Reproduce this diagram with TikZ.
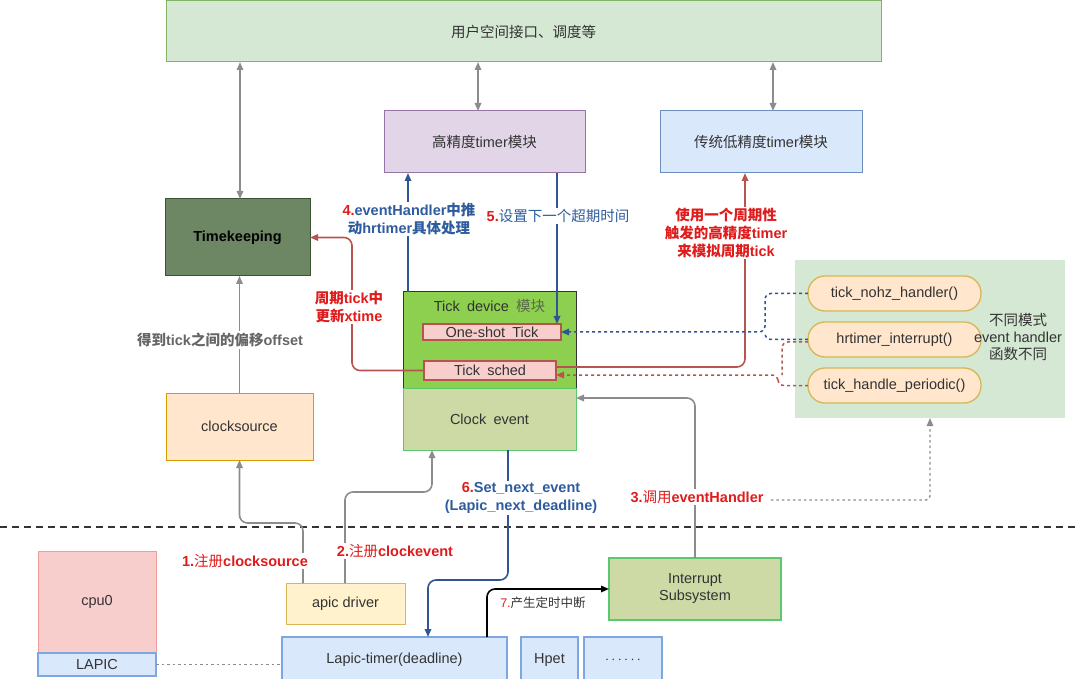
\documentclass[tikz,border=0pt]{standalone}
\usepackage{fontspec}
\setmainfont{Liberation Sans}
\newfontfamily\cjk{Noto Sans CJK SC}
\usetikzlibrary{arrows.meta,calc}
\newcommand\zht[1]{{\cjk #1}}
\newcommand\zhm[1]{{\cjk\mdseries #1}}
\definecolor{txt}{HTML}{333333}
\definecolor{topfill}{HTML}{D5E8D4}\definecolor{topdraw}{HTML}{82B366}
\definecolor{hpfill}{HTML}{E1D5E7}\definecolor{hpdraw}{HTML}{9673A6}
\definecolor{lpfill}{HTML}{DAE8FC}\definecolor{lpdraw}{HTML}{6C8EBF}
\definecolor{tkfill}{HTML}{6D8764}\definecolor{tkdraw}{HTML}{3A5431}
\definecolor{csfill}{HTML}{FFE6CC}\definecolor{csdraw}{HTML}{D79B00}
\definecolor{tdfill}{HTML}{8DCF4F}\definecolor{tddraw}{HTML}{333333}
\definecolor{pkfill}{HTML}{F8CECC}\definecolor{pkdraw}{HTML}{B85450}
\definecolor{cefill}{HTML}{CDDAA6}\definecolor{cedraw}{HTML}{5CC86E}
\definecolor{hdfill}{HTML}{FFE6CC}\definecolor{hddraw}{HTML}{D6B656}
\definecolor{adfill}{HTML}{FFF2CC}
\definecolor{cpufill}{HTML}{F8CECC}\definecolor{cpudraw}{HTML}{F19C99}
\definecolor{bxfill}{HTML}{DAE8FC}\definecolor{bxdraw}{HTML}{7EA6E0}
\definecolor{gline}{HTML}{8C8C8C}
\definecolor{bline}{HTML}{2F5597}
\definecolor{rline}{HTML}{B85450}
\definecolor{lred}{HTML}{E01B1B}
\definecolor{lblue}{HTML}{2E5C9E}
\definecolor{lgray}{HTML}{666666}
\definecolor{mgray}{HTML}{5A6B4A}
\begin{document}
\begin{tikzpicture}[x=1pt,y=-1pt,
  every node/.style={font=\fontsize{14.5}{17}\selectfont, text=txt, inner sep=0pt, outer sep=0pt},
  box/.style={draw, line width=1pt, align=center},
  pill/.style={box, fill=hdfill, draw=hddraw, line width=1.3pt, rounded corners=17pt, minimum width=173pt, minimum height=35pt},
  bluebox/.style={box, fill=bxfill, draw=bxdraw, line width=1.2pt},
  tipa/.style={-{Triangle[length=8pt,width=6.5pt]}},
  tipb/.style={{Triangle[length=8pt,width=6.5pt]}-{Triangle[length=8pt,width=6.5pt]}},
  gconn/.style={draw=gline, line width=1.6pt, rounded corners=8pt},
  bconn/.style={draw=bline, line width=1.6pt, rounded corners=8pt},
  rconn/.style={draw=rline, line width=1.6pt, rounded corners=8pt},
  lbl/.style={fill=white, align=center, font=\fontsize{14.5}{18}\selectfont\bfseries, inner sep=1.5pt}
]
\useasboundingbox (0,0) rectangle (1080,679);

% boxes
\node[box, fill=topfill, draw=topdraw, minimum width=715pt, minimum height=61pt] (top) at (523.5,31.5) {\zht{用户空间接口、调度等}};
\node[box, fill=hpfill, draw=hpdraw, minimum width=201pt, minimum height=62pt] (hp) at (484.5,142) {\zht{高精度}timer\zht{模块}};
\node[box, fill=lpfill, draw=lpdraw, minimum width=202pt, minimum height=62pt] (lp) at (761,142) {\zht{传统低精度}timer\zht{模块}};
\node[box, fill=tkfill, draw=tkdraw, minimum width=145pt, minimum height=77pt, text=black, font=\fontsize{14.5}{17}\selectfont\bfseries] (tk) at (237.5,237.5) {Timekeeping};
\node[box, fill=csfill, draw=csdraw, minimum width=147pt, minimum height=67pt] (cs) at (239.5,426.5) {clocksource};

\node[box, fill=tdfill, draw=tddraw, minimum width=173pt, minimum height=96pt] (td) at (489.5,340) {};
\node (tdt) at (489.5,306) {Tick\enspace device\enspace\textcolor{mgray}{\zht{模块}}};
\node[box, fill=pkfill, draw=pkdraw, line width=1.8pt, minimum width=138pt, minimum height=16pt] (ost) at (492,332) {One-shot\enspace Tick};
\node[box, fill=pkfill, draw=pkdraw, line width=1.8pt, minimum width=132pt, minimum height=19pt] (ts) at (490,370.5) {Tick\enspace sched};
\node[box, fill=cefill, draw=cedraw, minimum width=173pt, minimum height=62pt] (ce) at (489.5,419) {Clock\enspace event};

\node[fill=topfill, minimum width=270pt, minimum height=158pt] (grn) at (930,339) {};
\node[pill] (h1) at (894.5,293.5) {tick\_nohz\_handler()};
\node[pill] (h2) at (894.5,339.5) {hrtimer\_interrupt()};
\node[pill] (h3) at (894.5,385.5) {tick\_handle\_periodic()};
\node[align=center, font=\fontsize{14.5}{17}\selectfont] (mode) at (1018,337) {\zht{不同模式}\\event handler\\\zht{函数不同}};

\node[box, fill=cefill, draw=cedraw, line width=1.2pt, minimum width=172pt, minimum height=62pt] (is) at (695,589) {Interrupt\\Subsystem};
\node[box, fill=adfill, draw=hddraw, minimum width=119pt, minimum height=41pt] (ad) at (345.5,603.5) {apic driver};
\node[box, fill=cpufill, draw=cpudraw, minimum width=118pt, minimum height=102pt] (cpu) at (97,602) {cpu0};
\node[bluebox, minimum width=118pt, minimum height=23pt] (lapic) at (97,664.5) {LAPIC};
\node[bluebox, minimum width=225pt, minimum height=46pt] (lt) at (394.5,660) {Lapic-timer(deadline)};
\node[bluebox, minimum width=57pt, minimum height=46pt] (hpet) at (549.5,660) {Hpet};
\node[bluebox, minimum width=78pt, minimum height=46pt] (dots) at (623,660) {$\cdots\cdots$};

% separator
\coordinate (sepL) at (0,527);
\coordinate (sepR) at (1080,527);
\draw[line width=1.8pt, draw=black!80, dash pattern=on 7pt off 5pt] (sepL) -- (sepR);

% gray connectors
\draw[gconn, tipb] ($(tk.north)+(2.5,0)$) -- ($(tk.north |- top.south)+(2.5,0)$);
\draw[gconn, tipb] ($(hp.north)+(-6.5,0)$) -- ($(hp.north |- top.south)+(-6.5,0)$);
\draw[gconn, tipb] ($(lp.north)+(12,0)$) -- ($(lp.north |- top.south)+(12,0)$);
\draw[gconn, tipa] (cs.north) -- (cs.north |- tk.south);
\draw[gconn, tipa] ($(ad.north west)+(17,0)$) |- ($(cs.south)+(0,63)$) -- (cs.south);
\draw[gconn, tipa] ($(ad.north west)+(59,0)$) |- ($(ce.south west)+(29,42)$) -- ($(ce.south west)+(29,0)$);
\draw[gconn, tipa] (is.north) |- ($(ce.east)+(0,-21)$);
\draw[draw=gline, line width=1.4pt, dash pattern=on 2.5pt off 3pt] (lapic.east) -- (lapic.east -| lt.west);

% blue connectors
\draw[bconn, tipa] ($(td.north west)+(5,0)$) -- ($(td.north west |- hp.south)+(5,0)$);
\draw[bconn, tipa] ($(ost.north east |- hp.south)+(-4,0)$) -- ($(ost.north east)+(-4,0)$);
\draw[bconn, tipa] ($(ce.south west)+(105,0)$) |- ($(lt.north west)+(146,-57)$) -- ($(lt.north west)+(146,0)$);

% red connectors
\draw[rconn, tipa] ($(ts.east)+(0,-3.5)$) -| ($(lp.south west)+(85,0)$);
\draw[rconn, tipa] (ts.west) -| ($(tk.east)+(42,0)$) -- (tk.east);

% black
\draw[draw=black, line width=1.6pt, rounded corners=8pt, tipa] ($(lt.north west)+(205,0)$) |- (is.west);

% dashed handler links
\draw[draw=bline, line width=1.5pt, dash pattern=on 3pt off 3pt, rounded corners=6pt, tipa] (h1.west) -| ($(ost.east)+(204,0)$) -- (ost.east);
\draw[draw=bline, line width=1.5pt, dash pattern=on 3pt off 3pt, rounded corners=6pt] (h2.west) -| ($(ost.east)+(204,0)$);
\draw[draw=rline, line width=1.5pt, dash pattern=on 3pt off 3pt, rounded corners=6pt, tipa] (h3.west) -| ($(ts.east)+(222,4.5)$) -- ($(ts.east)+(0,4.5)$);
\draw[draw=rline, line width=1.5pt, dash pattern=on 3pt off 3pt, rounded corners=6pt] ($(h2.west)+(0,2.5)$) -| ($(ts.east)+(226,4.5)$);

% labels
\node[lbl, text=lblue] (l4) at (409,219) {\textcolor{lred}{4.}eventHandler\zht{中推}\\\zht{动}hrtimer\zht{具体处理}};
\node[lbl, text=lblue] (l5) at (558,216) {\textcolor{lred}{5.}\zhm{设置下一个超期时间}};
\node[lbl, text=lred] (lr) at (726,233) {\zht{使用一个周期性}\\\zht{触发的高精度}timer\\\zht{来模拟周期}tick};
\node[lbl, text=lred] (lx) at (349,307) {\zht{周期}tick\zht{中}\\\zht{更新}xtime};
\node[lbl, text=lgray] (lo) at (220,340) {\zht{得到}tick\zht{之间的偏移}offset};
\node[lbl, text=lblue] (l6) at (521,498) {\textcolor{lred}{6.}Set\_next\_event\\(Lapic\_next\_deadline)};
\node[lbl, text=lred] (l1) at (245,561) {1.\zhm{注册}clocksource};
\node[lbl, text=lred] (l2) at (395,551) {2.\zhm{注册}clockevent};
\node[lbl, text=lred] (l3) at (697,497) {3.\zhm{调用}eventHandler};
\node[font=\fontsize{12.5}{15}\selectfont] (l7) at (543,603) {\textcolor{lred}{7.}\zht{产生定时中断}};

\draw[draw=gline, line width=1.4pt, dash pattern=on 2.5pt off 3pt, rounded corners=4pt, tipa] ($(l3.east)+(6,3)$) -| (grn.south);
\end{tikzpicture}
\end{document}
